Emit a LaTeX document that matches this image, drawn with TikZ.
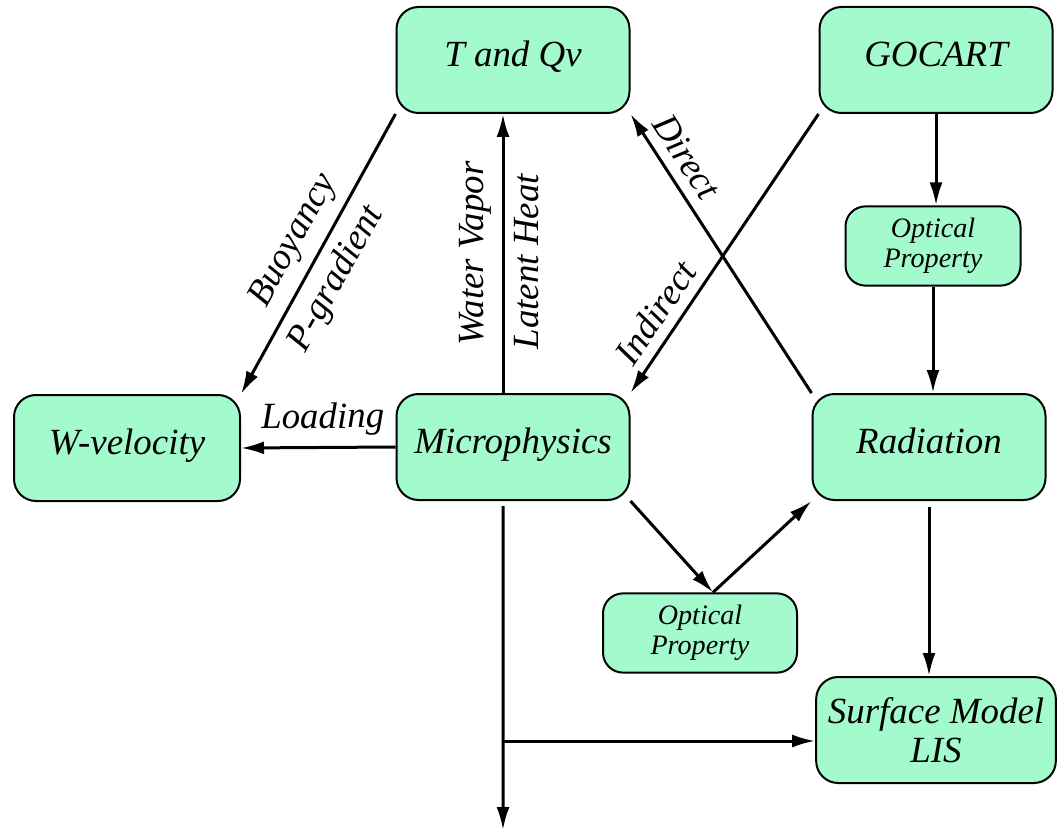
\documentclass[tikz,border=0pt]{standalone}
\usepackage{fontspec}
\setmainfont{Liberation Serif}
\usepackage{tikz}
\usetikzlibrary{
	calc,
	arrows.meta
}
\definecolor{MintFill}{RGB}{163,250,204}

\tikzset{
	mainbox/.style={
		draw,
		line width=0.2mm,
		fill=MintFill,
		rounded corners=2.2mm,
		minimum width=23.3mm,
		minimum height=10.6mm,
		align=center,
		font=\fontsize{10.5}{11}\selectfont\itshape
	},
	modbox/.style={
		mainbox,
		text height=7pt,
		text depth=3.5pt
	},
	optbox/.style={
		mainbox,
		rounded corners=2mm,
		minimum height=7.4mm,
		font=\fontsize{8}{8.6}\selectfont\itshape
	},
	flow/.style={
		-{Latex[length=2.3mm,width=1.3mm]},
		line width=0.3mm
	},
	lbl/.style={
		font=\fontsize{10.5}{11}\selectfont\itshape,
		sloped,
		inner sep=1mm
	}
}

\begin{document}
\begin{tikzpicture}[x=0.1mm,y=-0.1mm]
				
				\useasboundingbox (0,0) rectangle (1059,831);
				
				% boxes
				\node[modbox] (TQ) at (513,60) {T and Qv};
				\node[modbox] (GO) at (936,60) {GOCART};
				\node[optbox, minimum width=17.5mm] (OP1) at (933,246) {Optical\\Property};
				\node[modbox, minimum width=22.6mm] (WV) at (127,448) {W-velocity};
				\node[modbox] (MP) at (513,447) {Microphysics};
				\node[modbox] (RD) at (929,447) {Radiation};
				\node[optbox, minimum width=19.4mm] (OP2) at (700,633) {Optical\\Property};
				\node[mainbox] (SM) at (936,730) {Surface Model\\LIS};
				
				\coordinate (OPK) at ([xshift=1.3mm]OP2.north);
				\coordinate (BR) at (503,741);
				\coordinate (EX) at (503,830);
				
				% connectors
				\draw[flow]
				(TQ.south west) -- (WV.north east)
				node[lbl, above, pos=0.5] {Buoyancy}
				node[lbl, below, pos=0.54] {P-gradient};
				
				\draw[flow]
				([xshift=-1mm]MP.north) -- ([xshift=-1mm]TQ.south)
				node[lbl, above, pos=0.5] {Water Vapor}
				node[lbl, below, pos=0.47] {Latent Heat};
				
				\draw[flow]
				(RD.north west) -- (TQ.south east)
				node[lbl, above, pos=0.8] {Direct};
				
				\draw[flow]
				(GO.south west) -- (MP.north east)
				node[lbl, above, pos=0.76] {Indirect};
				
				\draw[flow]
				(MP.west) -- (WV.east)
				node[lbl, above, pos=0.47] {Loading};
				
				\draw[flow] (GO) -- (GO |- OP1.north);
				\draw[flow] (OP1) -- (OP1 |- RD.north);
				
				\draw[flow] (MP.south east) -- (OPK);
				\draw[flow] (OPK) -- (RD.south west);
				
				\draw[flow, shorten <=0.6mm] (RD) -- (RD |- SM.north);
				
				\draw[flow, shorten <=0.5mm] ([xshift=-1mm]MP.south) -- (EX);
				\draw[flow] (BR) -- (BR -| SM.west);
				
\end{tikzpicture}
\end{document}
